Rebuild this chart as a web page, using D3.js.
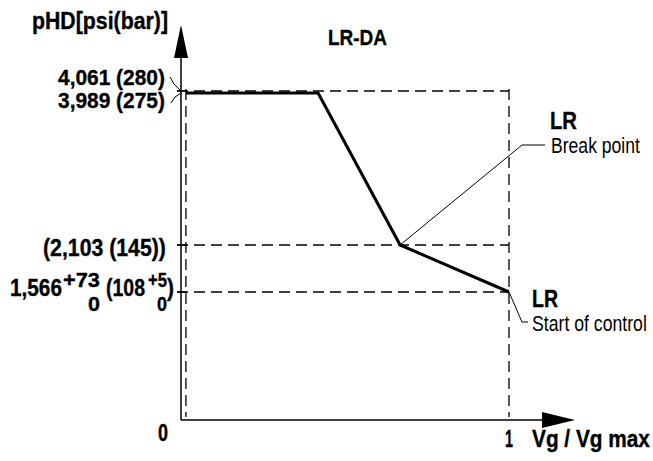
<!DOCTYPE html>
<html><head><meta charset="utf-8">
<script src="https://cdn.jsdelivr.net/npm/d3@7"></script>
<style>
html,body{margin:0;padding:0;background:#fff;}
svg{display:block;}
text{font-family:"Liberation Sans",Arial,sans-serif;fill:#000;}
</style></head>
<body>
<script>
// ---- data ----
const curveX = [0.015, 0.418, 0.668, 1.0];           // Vg / Vg max
const curveP = [275, 275, 145, 108];                 // pressure, bar
const refLevels = [280, 145, 108];                   // dashed horizontal levels (bar)
const refX = [0.015, 1.0];                           // dashed vertical positions
const xTickVals = [0, 1];
const xTickLabels = ["0", "1"];
const yAxisTitle = "pHD[psi(bar)]";
const xAxisTitle = "Vg / Vg max";
const chartTitle = "LR-DA";
const labelMax = "4,061 (280)";
const labelMaxLow = "3,989 (275)";
const labelBreak = "(2,103 (145))";
const labelStart = ["1,566", "+73", "0", "(108", "+5", "0", ")"];

const W = 653, H = 461;
const svg = d3.select("body").append("svg").attr("width", W).attr("height", H);

const x = d3.scaleLinear().domain([0, 1]).range([181, 509]);
// schematic (non-uniform) pressure axis
const y = d3.scaleLinear().domain([0, 108, 145, 275, 280]).range([420, 292, 245, 93, 91]);

// condensed text: natural glyphs squeezed horizontally to the target width
function txt(s, tx, ty, size, w, weight) {
  const g = svg.append("g");
  const bold = (weight || "bold") === "bold";
  const t = g.append("text").attr("x", 0).attr("y", 0)
    .attr("font-size", size).attr("font-weight", bold ? "bold" : "normal").text(s);
  if (bold) t.attr("stroke", "#000").attr("stroke-width", 0.35);
  const nat = t.node().getComputedTextLength();
  const sx = w ? w / nat : 1;
  g.attr("transform", `translate(${tx},${ty}) scale(${sx},1)`);
  return t;
}

// dashed reference lines
const dash = "11,6";
refLevels.forEach(v => {
  svg.append("line").attr("x1", x(0) - 4).attr("x2", x(1)).attr("y1", y(v)).attr("y2", y(v))
    .attr("stroke", "#000").attr("stroke-width", 1.3).attr("stroke-dasharray", dash);
  svg.append("line").attr("x1", x(0) - 4).attr("x2", x(0) + 6).attr("y1", y(v)).attr("y2", y(v))
    .attr("stroke", "#000").attr("stroke-width", 1.3);
});
refX.forEach(v => {
  svg.append("line").attr("x1", x(v)).attr("x2", x(v)).attr("y1", y(280) - 2).attr("y2", y(0) - 3)
    .attr("stroke", "#000").attr("stroke-width", 1.3).attr("stroke-dasharray", dash);
});

// axes
const x0 = x(0), y0 = y(0);
svg.append("line").attr("x1", x0).attr("x2", x0).attr("y1", y0).attr("y2", 58)
  .attr("stroke", "#000").attr("stroke-width", 1.5);
svg.append("path").attr("d", `M${x0-7},58 L${x0+7},58 L${x0},25 Z`).attr("fill", "#000");
svg.append("line").attr("x1", x0).attr("x2", 542).attr("y1", y0).attr("y2", y0)
  .attr("stroke", "#000").attr("stroke-width", 1.5);
svg.append("path").attr("d", `M542,${y0-8} L542,${y0+8} L575,${y0} Z`).attr("fill", "#000");

// curve
const line = d3.line().x((d, i) => x(curveX[i])).y(d => y(d));
svg.append("path").datum(curveP).attr("d", line).attr("fill", "none")
  .attr("stroke", "#000").attr("stroke-width", 3).attr("stroke-linejoin", "miter");

// leaders
const lead = d => svg.append("path").attr("d", d).attr("fill", "none").attr("stroke", "#000").attr("stroke-width", 1);
lead(`M${x(curveX[2])},${y(curveP[2])} L522,145 L545,145`);
lead(`M${x(curveX[3])},${y(curveP[3])} L522,322 L528,322`);
lead(`M170,77 L174,84 L${x0},${y(280)}`);
lead(`M171,103 L175,97 L${x0},${y(275)}`);

// texts
txt(yAxisTitle, 32, 29, 23, 136);
txt(chartTitle, 328, 45, 23, 59);
txt(labelMax, 58, 85, 22, 107);
txt(labelMaxLow, 58, 108, 22, 107);
txt(labelBreak, 43, 256, 23, 123);
txt(labelStart[0], 10, 296, 23, 52);
txt(labelStart[1], 63, 287, 21, 37);
txt(labelStart[2], 88, 311, 21, 12);
txt(labelStart[3], 106, 296, 23, 39);
txt(labelStart[4], 148, 287, 21, 19);
txt(labelStart[5], 157, 311, 21, 10);
txt(labelStart[6], 167, 296, 23, 7);

txt(xTickLabels[0], x(xTickVals[0]) - 23, 441, 23, 10);
txt(xTickLabels[1], x(xTickVals[1]) - 4, 447, 23, 8);
txt(xAxisTitle, 532, 447, 23, 118);

txt("LR", 550, 129, 23, 27);
txt("Break point", 551, 153, 22, 89, "normal");
txt("LR", 532, 307, 23, 26);
txt("Start of control", 532, 331, 22, 115, "normal");
</script>
</body></html>
